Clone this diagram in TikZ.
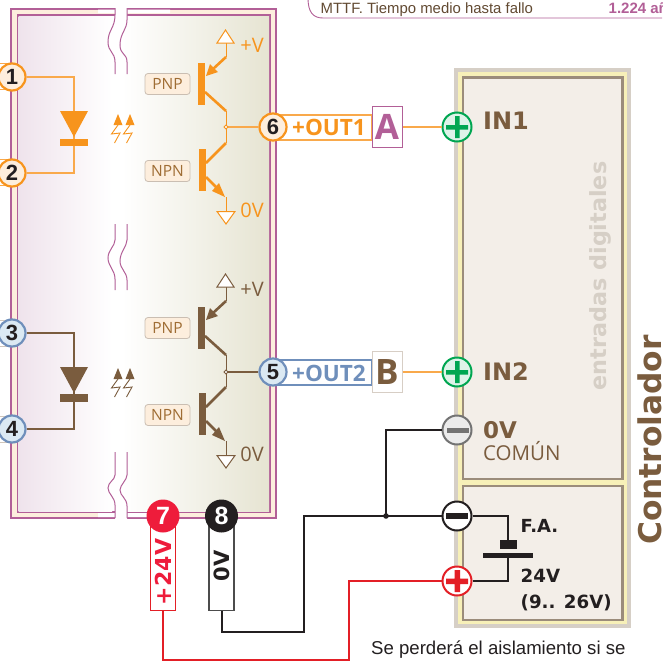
\documentclass[tikz,border=0pt]{standalone}
\usepackage{fontspec}
\setmainfont{Liberation Sans}
\newfontfamily\ops{Open Sans}
\newfontfamily\dvs{DejaVu Sans}
\usetikzlibrary{calc}
\newcommand{\fs}[1]{\fontsize{#1}{#1}\selectfont}
\definecolor{org}{HTML}{F7941D}
\definecolor{orgw}{HTML}{F9A94B}
\definecolor{brn}{HTML}{7A5C3E}
\definecolor{pnk}{HTML}{B25F97}
\definecolor{crm}{HTML}{FDEEDD}
\definecolor{blu}{HTML}{6F8FBB}
\definecolor{ltb}{HTML}{DBE9F3}
\definecolor{grn}{HTML}{00A651}
\definecolor{rd}{HTML}{E31F26}
\definecolor{rd2}{HTML}{EE1C3B}
\definecolor{blk}{HTML}{231F20}
\definecolor{lav}{HTML}{EFE3EC}
\definecolor{oli}{HTML}{E6E4D2}
\definecolor{cgray}{HTML}{D6CFC6}
\definecolor{cyel}{HTML}{F7F0B8}
\definecolor{cline}{HTML}{9B8C7B}
\definecolor{cfill}{HTML}{F3EEE8}
\tikzset{
  pin/.style={circle,minimum size=27,inner sep=0,line width=2.2,font=\bfseries\fs{22}},
  pinO/.style={pin,draw=org,fill=crm,text=blk},
  pinB/.style={pin,draw=blu,fill=ltb,text=blk},
  term/.style={circle,minimum size=29,inner sep=0,line width=2},
  wO/.style={draw=orgw,line width=1.3},
  wB/.style={draw=brn,line width=1.2},
  wK/.style={draw=blk,line width=2},
  wR/.style={draw=rd,line width=2},
  tagbox/.style={draw=#1,fill=white,line width=1,minimum width=30,minimum height=41,inner sep=0,font=\bfseries\ops\fs{35}},
  typelabel/.style={draw=#1,rounded corners=3,fill=crm,line width=.8,minimum width=45,minimum height=21,inner sep=0,font=\ops\fs{15.5},text=brn!70!org},
  rail/.style={font=\ops\fs{20}},
  fname/.style={anchor=base west,inner sep=0,font=\dvs\bfseries\fs{24},text=brn},
  brk/.style={draw=pnk,line width=1}
}
\newcommand{\tpair}[2]{%
 \begin{scope}[yshift=-#2]
  \fill[#1] (198,63) rectangle (205,105);
  \fill[#1] (199,149) rectangle (206,191);
  \draw[#1,line width=2.6] (205,92) -- (226,111);
  \draw[#1,line width=2.6] (206,163) -- (226,143);
  \draw[#1,line width=2.6] (226,57) -- (213,69);
  \draw[#1,line width=2.6] (206,177) -- (218,189);
  \fill[#1] (206,76) -- (210,64) -- (218,72) -- cycle;
  \fill[#1] (225,197) -- (212,191) -- (219,183) -- cycle;
  \draw[#1,line width=1] (226,111) -- (226,143);
  \draw[#1,line width=1] (226,57) -- (226,43);
  \draw[#1,line width=1] (226,197) -- (226,211);
  \filldraw[draw=#1,fill=white,line width=1] (225.5,30) -- (217,43) -- (234,43) -- cycle;
  \filldraw[draw=#1,fill=white,line width=1] (226,224) -- (217,211.5) -- (235,211.5) -- cycle;
  \node[rail,text=#1] at (252,45) {+V};
  \node[rail,text=#1] at (252,210) {0V};
 \end{scope}
}
\newcommand{\lightmark}[2]{%
 \begin{scope}[xshift=#1,yshift=-#2]
  \fill (0,0) -- (-4.5,11) -- (4.5,11) -- cycle;
  \draw[line width=.9,fill=none] (0,11) -- (-6.5,20) -- (2,19) -- (-3.5,29);
 \end{scope}
}
\newcommand{\tinylight}[2]{%
 \begin{scope}[#1,fill=#1,draw=#1]
  \lightmark{118}{#2}\lightmark{130}{#2}
 \end{scope}
}
\begin{document}
\begin{tikzpicture}[x=1pt,y=-1pt]
\useasboundingbox (0,0) rectangle (662,662);
\clip (0,0) rectangle (662,662);
\fill[white] (0,0) rectangle (662,662);
% ---- top table fragment
\draw[pnk,line width=.9] (308,-2) .. controls (308,12) and (313,18) .. (323,18) -- (664,18);
\node[anchor=base west,inner sep=0,font=\fs{14.9},text=brn!80!black] at (320.5,13) {MTTF. Tiempo medio hasta fallo};
\node[anchor=base west,inner sep=0,font=\bfseries\fs{15},text=pnk] at (608.5,13) {1.224 años};
% ---- sensor housing
\filldraw[draw=pnk,fill=crm,line width=2] (10.5,8.5) rectangle (276,518);
\fill[white] (98,9.5) rectangle (170,13) (98,513) rectangle (170,517);
\draw[pnk,line width=2] (17.5,15) rectangle (270,512);
\fill[white] (108,16) rectangle (126,511);
\shade[left color=lav,right color=white] (18.5,16) rectangle (112,511);
\shade[left color=white,right color=oli] (122,16) rectangle (269,511);
% breaks
\fill[white] (115,7) -- (115,15) .. controls (115,28) and (108,30) .. (108,42) .. controls (108,52) and (115,52) .. (115,62) -- (115,74) -- (127,74) -- (127,62) .. controls (127,52) and (120,55) .. (120,45) .. controls (120,32) and (127,30) .. (127,20) -- (127,7) -- cycle;
\fill[white] (115,224) -- (115,240) .. controls (115,246) and (108,250) .. (108,258) .. controls (108,266) and (115,270) .. (115,279) -- (115,290) -- (127,290) -- (127,280) .. controls (127,272) and (120,269) .. (120,261) .. controls (120,252) and (127,246) .. (127,240) -- (127,224) -- cycle;
\fill[white] (115,452) -- (115,475) .. controls (115,480) and (108,482) .. (108,488) .. controls (108,494) and (115,497) .. (115,505) -- (115,520) -- (127,520) -- (127,506) .. controls (127,498) and (120,496) .. (120,490) .. controls (120,485) and (127,480) .. (127,475) -- (127,452) -- cycle;
\draw[brk] (115,8) -- (115,15) .. controls (115,28) and (108,30) .. (108,42) .. controls (108,52) and (115,52) .. (115,62) -- (115,74);
\draw[brk] (127,8) -- (127,20) .. controls (127,30) and (120,33) .. (120,45) .. controls (120,55) and (127,53) .. (127,62) -- (127,74);
\draw[brk] (115,224) -- (115,240) .. controls (115,246) and (108,250) .. (108,258) .. controls (108,266) and (115,270) .. (115,279) -- (115,290);
\draw[brk] (127,224) -- (127,240) .. controls (127,246) and (120,252) .. (120,261) .. controls (120,269) and (127,272) .. (127,280) -- (127,290);
\draw[brk] (115,452) -- (115,475) .. controls (115,480) and (108,482) .. (108,488) .. controls (108,494) and (115,497) .. (115,505) -- (115,518);
\draw[brk] (127,452) -- (127,475) .. controls (127,480) and (120,485) .. (120,490) .. controls (120,496) and (127,498) .. (127,506) -- (127,518);
% ---- controller
\fill[cgray] (454,68) rectangle (631,628);
\fill[cyel] (458,72) rectangle (627,624);
\filldraw[draw=cline,fill=cfill,line width=2.8] (463,77.5) rectangle (622.5,479);
\filldraw[draw=cline,fill=cfill,line width=2.8] (463,486) rectangle (622.5,620);
\node[rotate=90,font=\dvs\bfseries\fs{22.3},text=cgray] at (600,276) {entradas digitales};
\node[rotate=90,anchor=base,inner sep=0,font=\dvs\bfseries\fs{31.3},text=brn] at (661,440) {Controlador};
\node[fname] at (483,129) {IN1};
\node[fname] at (483,380) {IN2};
\node[fname,font=\dvs\bfseries\fs{23}] at (483,438) {0V};
\node[anchor=base west,inner sep=0,font=\ops\fs{20.5},text=brn] at (483,460) {COMÚN};
\node[fname,text=blk,font=\dvs\bfseries\fs{18}] at (520.5,532) {F.A.};
\node[fname,text=blk,font=\dvs\bfseries\fs{18.2}] at (520.5,582) {24V};
\node[fname,text=blk,font=\dvs\bfseries\fs{18.2}] at (520.5,608) {(9.. 26V)};
% ---- pin pads
\draw[orgw,line width=1] (0,63.5) -- (10,63.5) (0,89.5) -- (10,89.5) (0,159.5) -- (10,159.5) (0,185.5) -- (10,185.5);
\draw[brn!35!white,line width=1] (0,320) -- (10,320) (0,346) -- (10,346) (0,416) -- (10,416) (0,442) -- (10,442);
% ---- output tabs
\filldraw[draw=orgw,fill=white,line width=1.3] (273,115) rectangle (372,140);
\filldraw[draw=blu,fill=white,line width=1.3] (273,360) rectangle (372,385);
\node[inner sep=0,font=\bfseries\ops\fs{22.5},text=org] at (329,127) {+OUT1};
\node[inner sep=0,font=\bfseries\ops\fs{22.5},text=blu] at (329,373) {+OUT2};
% ---- nodes
\node[pinO] (p1) at (12,77) {1};
\node[pinO] (p2) at (12,173) {2};
\node[pinB] (p3) at (12,333) {3};
\node[pinB] (p4) at (12,429) {4};
\node[pinO] (p6) at (273,127) {6};
\node[pinB] (p5) at (273,372) {5};
\node[tagbox=pnk,text=pnk] (A) at (387,127) {A};
\node[tagbox=brn!30!white,text=brn] (B) at (387,372) {B};
\node[term,draw=grn,fill=grn!13!white] (in1) at (457,127) {};
\node[term,draw=grn,fill=grn!13!white] (in2) at (457,372) {};
\node[term,draw=black!55!white,fill=black!8!white] (com) at (457,430) {};
\node[term,draw=blk,fill=white] (fm) at (457,516) {};
\node[term,draw=rd,fill=white] (fp) at (457,581) {};
\fill[grn] (446,125) rectangle (468,129.5) (455,116) rectangle (459.5,138);
\fill[grn] (446,370) rectangle (468,374.5) (455,361) rectangle (459.5,383);
\fill[black!55!white] (447,427.5) rectangle (469,433);
\fill[blk] (446,513) rectangle (468,518.5);
\fill[rd] (446,578.5) rectangle (468,584) (454.5,570) rectangle (460,592);
% ---- wires
\draw[wO] (p1.east) -- (74,77) -- (74,173) -- (p2.east);
\draw[wB] (p3.east) -- (74,333) -- (74,429) -- (p4.east);
\coordinate (j1) at (226,127);
\coordinate (j2) at (226,372);
\draw[wO] (j1) -- (p6.west);
\draw[wB] (j2) -- (p5.west);
\draw[wO] (A.east) -- (in1.west);
\draw[wO] (B.east) -- (in2.west);
% ---- diodes
\fill[org] (60,111) -- (88,111) -- (74,137) -- cycle;
\fill[org] (60,139) rectangle (87.5,146);
\fill[brn] (60,367) -- (88,367) -- (74,393) -- cycle;
\fill[brn] (60,394) rectangle (87.5,401.5);
\tinylight{org}{114}
\tinylight{brn}{368}
% ---- transistors
\tpair{org}{0}
\tpair{brn}{244}
\filldraw[draw=org,fill=white,line width=.9] (j1) circle (1.9);
\filldraw[draw=brn,fill=white,line width=.9] (j2) circle (1.9);
\node[typelabel=brn!40!white] (pnp1) at (167.5,84) {PNP};
\node[typelabel=brn!40!white] (npn1) at (167.5,171) {NPN};
\node[typelabel=brn!40!white] (pnp2) at (167.5,328) {PNP};
\node[typelabel=brn!40!white] (npn2) at (167.5,415) {NPN};
% ---- power leads
\node[draw=rd,fill=white,line width=1,minimum width=25,minimum height=85,inner sep=0] (b7) at (163,568) {};
\node[draw=black!70!white,fill=white,line width=1.2,minimum width=25,minimum height=85,inner sep=0] (b8) at (221.5,568) {};
\node[rotate=90,font=\dvs\bfseries\fs{22},text=rd2] at (163,572) {+24V};
\node[rotate=90,font=\dvs\bfseries\fs{21},text=blk] at (221.5,566) {0V};
\node[circle,fill=rd2,minimum size=33,inner sep=0,text=white,font=\bfseries\fs{25}] (n7) at (163,516) {7};
\node[circle,fill=blk,minimum size=33,inner sep=0,text=white,font=\bfseries\fs{25}] (n8) at (221.5,516) {8};
\coordinate (dot) at (386,516);
\coordinate (r1) at (163,660);
\coordinate (k1) at (221.5,632);
\draw[wR] (b7.south) -- (r1) -- (349,660) -- (349,581) -- (fp.west);
\draw[wK] (b8.south) -- (k1) -- (304,632) -- (304,516) -- (fm.west);
\draw[wK] (dot) -- (386,430) -- (com.west);
\fill[blk] (dot) circle (2.8);
% ---- battery
\coordinate (batT) at (508,540);
\coordinate (batB) at (508,558);
\draw[wK] (fm.east) -| (batT);
\draw[wK] (fp.east) -| (batB);
\fill[blk] (500,540) rectangle (517,549);
\fill[blk] (483,553) rectangle (533,558);
% ---- note
\node[anchor=base west,inner sep=0,font=\fs{18.6},text=blk] at (371,654) {Se perderá el aislamiento si se};
\end{tikzpicture}
\end{document}
